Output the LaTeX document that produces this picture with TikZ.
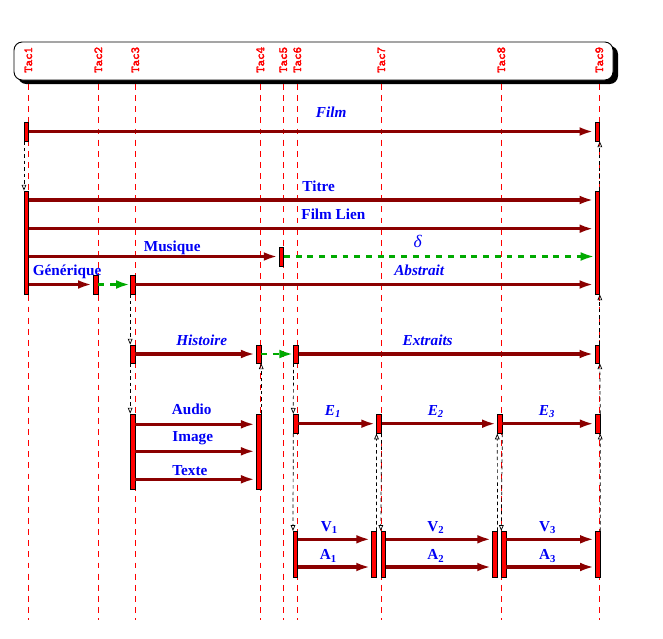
\documentclass[tikz,border=0pt]{standalone}
\usepackage{fontspec}
\setmainfont{Liberation Serif}
\newfontfamily\tacfont{lmmono10-regular.otf}[FakeBold=2.5]
\usepackage{xcolor}
\usetikzlibrary{arrows.meta}
\definecolor{flowred}{RGB}{139,0,0}
\definecolor{lblblue}{RGB}{0,0,245}
\definecolor{gapgreen}{RGB}{0,170,0}

\begin{document}
\begin{tikzpicture}[
        x=0.03cm, y=-0.03cm,
        tac/.style={red, line width=0.8pt, dash pattern=on 5pt off 4.5pt},
        taclbl/.style={
            red,
            rotate=90,
            anchor=west,
            inner sep=0pt,
            font=\fontsize{10.5}{12}\tacfont\bfseries
        },
        bar/.style={
            draw=black,
            fill=red,
            line width=0.6pt,
            inner sep=0pt,
            minimum width=0.13cm,
            minimum height=#1
        },
        bar/.default=0.57cm,
        flow/.style={-{Latex[length=12pt,width=7.5pt]},flowred,line width=2.6pt,shorten >=1pt},
        gap/.style={-{Latex[length=12pt,width=7.5pt]},gapgreen,line width=2.4pt,dash pattern=on 5pt off 5pt},
        link/.style={-{Triangle[open,length=5pt,width=4pt]},black,line width=0.6pt,dash pattern=on 3pt off 2.5pt},
        lbl/.style={lblblue,anchor=base,inner sep=0pt,font=\fontsize{13}{15}\selectfont\bfseries},
        ilbl/.style={lbl,font=\fontsize{13}{15}\selectfont\bfseries\itshape}
    ]
        \useasboundingbox (0,0) rectangle (663,639);

        % header
        \fill[black, rounded corners=7pt] (18,46) rectangle (618,84);
        \draw[fill=white, line width=0.8pt, rounded corners=7pt] (14,42) rectangle (613,80);

        % time lines
        \foreach \i/\x in {1/28.3,2/98.3,3/135.3,4/260.3,5/283.3,6/297.3,7/381.3,8/501.3,9/599.3}{
            \draw[tac] (\x,84) -- (\x,620);
            \node[taclbl] (tac\i) at (\x,73) {Tac\i};
        }

        % bars
        \node[bar] (filmS) at (26.5,131.5) {};
        \node[bar] (filmE) at (597.3,131.5) {};
        \node[bar=3.09cm] (g1S) at (26.5,242.5) {};
        \node[bar=3.09cm] (g1E) at (597.3,242.5) {};
        \node[bar] (musE) at (281.5,256.5) {};
        \node[bar] (genE) at (95.8,284.5) {};
        \node[bar] (absS) at (132.7,284.5) {};
        \node[bar=0.54cm] (histS) at (132.7,354) {};
        \node[bar=0.54cm] (histE) at (258.7,354) {};
        \node[bar=0.54cm] (extS) at (296,354) {};
        \node[bar=0.54cm] (extE) at (597.3,354) {};
        \node[bar=2.25cm] (audS) at (132.7,451.5) {};
        \node[bar=2.25cm] (audE) at (258.7,451.5) {};
        \node[bar] (e1) at (295.8,423.7) {};
        \node[bar] (e2) at (379,423.7) {};
        \node[bar] (e3) at (499.8,423.7) {};
        \node[bar] (e4) at (597.7,423.7) {};
        \node[bar=1.38cm] (v1S) at (295.5,554.3) {};
        \node[bar=1.38cm] (v1E) at (374,554.3) {};
        \node[bar=1.38cm] (v2S) at (383.3,554.3) {};
        \node[bar=1.38cm] (v2E) at (495,554.3) {};
        \node[bar=1.38cm] (v3S) at (503.8,554.3) {};
        \node[bar=1.38cm] (v3E) at (597.8,554.3) {};

        % flows
        \draw[flow] (filmS) -- node[ilbl,pos=.534,yshift=11.7pt] (lFilm) {Film} (filmE);
        \draw[flow] (g1S.east |- 0,200) -- node[lbl,pos=.512,yshift=7.1pt] (lTitre) {Titre} (g1E.west |- 0,200);
        \draw[flow] (g1S.east |- 0,228.7) -- node[lbl,pos=.538,yshift=8pt] (lLien) {Film Lien} (g1E.west |- 0,228.7);
        \draw[flow] (g1S.east |- musE) -- node[lbl,pos=.573,yshift=4pt] (lMusique) {Musique} (musE);
        \draw[gap] (musE) -- node[lbl,pos=.43,yshift=8pt,font=\fontsize{15}{17}\selectfont\itshape] (lDelta) {δ} (g1E.west |- musE);
        \draw[flow] (g1S.east |- genE) -- node[lbl,pos=.593,yshift=8pt] (lGenerique) {Générique} (genE);
        \draw[gap] (genE) -- (absS);
        \draw[flow] (absS) -- node[ilbl,pos=.618,yshift=7.3pt] (lAbstrait) {Abstrait} (g1E.west |- absS);
        \draw[flow] (histS) -- node[ilbl,pos=.55,yshift=7.1pt] (lHistoire) {Histoire} (histE);
        \draw[gap] (histE) -- (extS);
        \draw[flow] (extS) -- node[ilbl,pos=.436,yshift=7.1pt] (lExtraits) {Extraits} (extE);
        \draw[flow] (audS.east |- 0,424.3) -- node[lbl,pos=.467,yshift=8.5pt] (lAudio) {Audio} (audE.west |- 0,424.3);
        \draw[flow] (audS.east |- 0,451.3) -- node[lbl,pos=.476,yshift=8.5pt] (lImage) {Image} (audE.west |- 0,451.3);
        \draw[flow] (audS.east |- 0,479.3) -- node[lbl,pos=.452,yshift=3pt] (lTexte) {Texte} (audE.west |- 0,479.3);
        \draw[flow] (e1) -- node[ilbl,pos=.443,yshift=7.4pt] (lE1) {E\textsubscript{1}} (e2);
        \draw[flow] (e2) -- node[ilbl,pos=.469,yshift=7.4pt] (lE2) {E\textsubscript{2}} (e3);
        \draw[flow] (e3) -- node[ilbl,pos=.48,yshift=7.4pt] (lE3) {E\textsubscript{3}} (e4);
        \draw[flow] (v1S.east |- 0,539.3) -- node[lbl,pos=.425,yshift=6.5pt] (lV1) {V\textsubscript{1}} (v1E.west |- 0,539.3);
        \draw[flow] (v1S.east |- 0,567) -- node[lbl,pos=.412,yshift=6pt] (lA1) {A\textsubscript{1}} (v1E.west |- 0,567);
        \draw[flow] (v2S.east |- 0,539.3) -- node[lbl,pos=.469,yshift=6.5pt] (lV2) {V\textsubscript{2}} (v2E.west |- 0,539.3);
        \draw[flow] (v2S.east |- 0,567) -- node[lbl,pos=.469,yshift=6pt] (lA2) {A\textsubscript{2}} (v2E.west |- 0,567);
        \draw[flow] (v3S.east |- 0,539.3) -- node[lbl,pos=.465,yshift=6.5pt] (lV3) {V\textsubscript{3}} (v3E.west |- 0,539.3);
        \draw[flow] (v3S.east |- 0,567) -- node[lbl,pos=.465,yshift=6pt] (lA3) {A\textsubscript{3}} (v3E.west |- 0,567);

        % links between levels
        \draw[link] (filmS.south west) -- (g1S.north west);
        \draw[link] (g1E.north east) -- (filmE.south east);
        \draw[link] (absS.south west) -- (histS.north west);
        \draw[link] (extE.north east) -- (g1E.south east);
        \draw[link] (histS.south west) -- (audS.north west);
        \draw[link] (audE.north east) -- (histE.south east);
        \draw[link] (extS.south west) -- (e1.north west);
        \draw[link] (e4.north east) -- (extE.south east);
        \draw[link] (e1.south west) -- (v1S.north west);
        \draw[link] (v1E.north east) -- (e2.south west);
        \draw[link] (e2.south east) -- (v2S.north west);
        \draw[link] (v2E.north east) -- (e3.south west);
        \draw[link] (e3.south east) -- (v3S.north west);
        \draw[link] (v3E.north east) -- (e4.south east);
    \end{tikzpicture}
\end{document}
